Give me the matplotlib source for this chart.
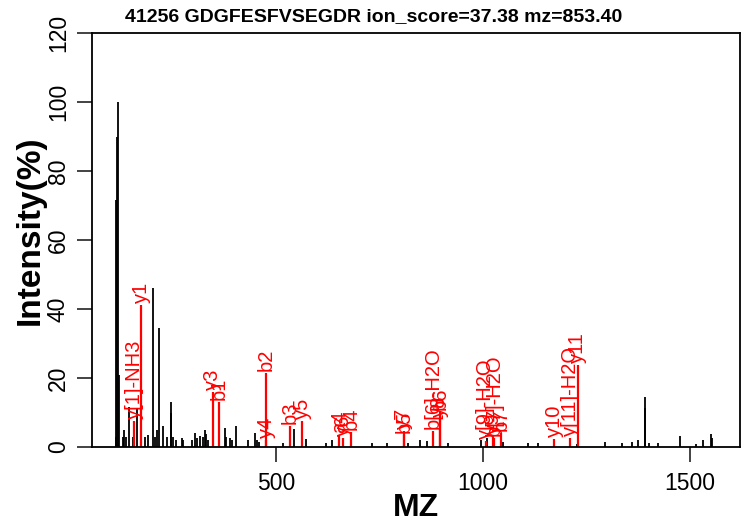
import matplotlib
matplotlib.use('Agg')
import matplotlib.pyplot as plt

plt.rcParams['font.family'] = ['Liberation Sans', 'DejaVu Sans']

# unannotated peaks (m/z, relative intensity %)
peak_mz = [113.11, 115.11, 117.12, 118.11, 121.12, 129.7, 133.6, 137.0, 146.0,
           155.3, 163.5, 183.6, 191.5, 202.2, 207.7, 213.3, 218.2, 227.8, 236.0,
           245.6, 248.0, 250.5, 258.5, 272.2, 274.6, 296.4, 304.3, 308.5, 316.4,
           324.4, 328.5, 330.9, 336.5, 376.8, 379.2, 388.9, 393.0, 403.4, 433.1,
           449.3, 454.8, 459.7, 517.6, 543.5, 572.5, 620.8, 634.5, 731.2, 768.8,
           819.6, 847.8, 864.0, 914.7, 995.2, 1008.9, 1049.0, 1109.4, 1133.6,
           1226.3, 1294.7, 1335.0, 1359.2, 1373.7, 1391.3, 1392.5, 1401.0, 1422.0,
           1475.8, 1514.5, 1532.0, 1549.9, 1552.3]
peak_int = [3.0, 71.6, 90.0, 100.0, 21.0, 3.0, 5.0, 3.0, 11.7,
            3.0, 11.3, 3.0, 3.5, 46.1, 3.0, 5.0, 34.4, 6.0, 3.0,
            13.1, 10.0, 3.0, 2.0, 2.5, 2.0, 2.0, 4.2, 2.5, 3.3,
            3.0, 5.0, 3.8, 2.0, 5.4, 3.0, 2.5, 2.0, 6.0, 2.0,
            4.2, 2.0, 1.5, 1.3, 5.1, 2.3, 1.3, 2.0, 1.3, 1.3,
            1.3, 2.0, 1.8, 1.3, 2.0, 2.5, 1.5, 1.3, 1.3,
            1.0, 1.5, 1.3, 1.5, 2.0, 14.4, 11.3, 1.2, 1.2,
            3.2, 1.0, 2.0, 3.8, 2.5]

# matched fragment ions
ion_labels = ['y[1]-NH3', 'y1', 'y3', 'b1', 'y4', 'b2', 'b3', 'y5', 'a4', 'y6', 'b4',
              'y7', 'b5', 'b[6]-H2O', 'y8', 'b6', 'y[9]-H2O', 'y9', 'b[7]-H2O', 'b7',
              'y10', 'y[11]-H2O', 'y11']
ion_mz = [158.09, 175.12, 347.17, 362.23, 476.21, 477.26, 534.28, 563.24, 653.35,
          662.31, 681.35, 809.38, 810.39, 879.42, 896.41, 897.43, 1007.44, 1025.45,
          1026.48, 1044.49, 1172.52, 1211.53, 1229.54]
ion_int = [7.5, 41.2, 16.0, 13.1, 2.0, 21.4, 6.0, 7.5, 3.4,
           2.6, 4.4, 4.6, 3.5, 4.5, 8.0, 10.2, 1.8, 3.2,
           2.5, 4.0, 2.3, 2.7, 23.8]

title = '41256 GDGFESFVSEGDR ion_score=37.38 mz=853.40'

fig = plt.figure(figsize=(7.45, 5.30), dpi=100)
ax = fig.add_axes([92 / 745, 83 / 530, 648 / 745, 414 / 530])

ax.vlines(peak_mz, 0, peak_int, color='black', lw=1.3)
ax.vlines(ion_mz, 0, ion_int, color='red', lw=1.6)
for mz, inten, lab in zip(ion_mz, ion_int, ion_labels):
    ax.text(mz, inten + 0.6, lab, color='red', fontsize=14.5, rotation=90,
            ha='center', va='bottom')

ax.set_xlim(56, 1621)
ax.set_ylim(0, 120)
ax.set_xticks([500, 1000, 1500])
ax.set_yticks(range(0, 121, 20))
ax.set_yticklabels([str(v) for v in range(0, 121, 20)], rotation=90, va='center')
ax.tick_params(axis='both', labelsize=16.5, length=11, width=1.2, color='#222222')
ax.tick_params(axis='x', pad=7)
ax.tick_params(axis='y', pad=5)
for s in ax.spines.values():
    s.set_linewidth(1.3)

fig.text(374 / 745, 1 - 17 / 530, title, ha='center', va='center',
         fontsize=14, fontweight='bold')
fig.text(416 / 745, 1 - 508 / 530, 'MZ', ha='center', va='center',
         fontsize=23, fontweight='bold')
fig.text(30 / 745, 1 - 230 / 530, 'Intensity(%)', ha='center', va='center',
         rotation=90, fontsize=24, fontweight='bold')

fig.savefig('out.png', dpi=100)
